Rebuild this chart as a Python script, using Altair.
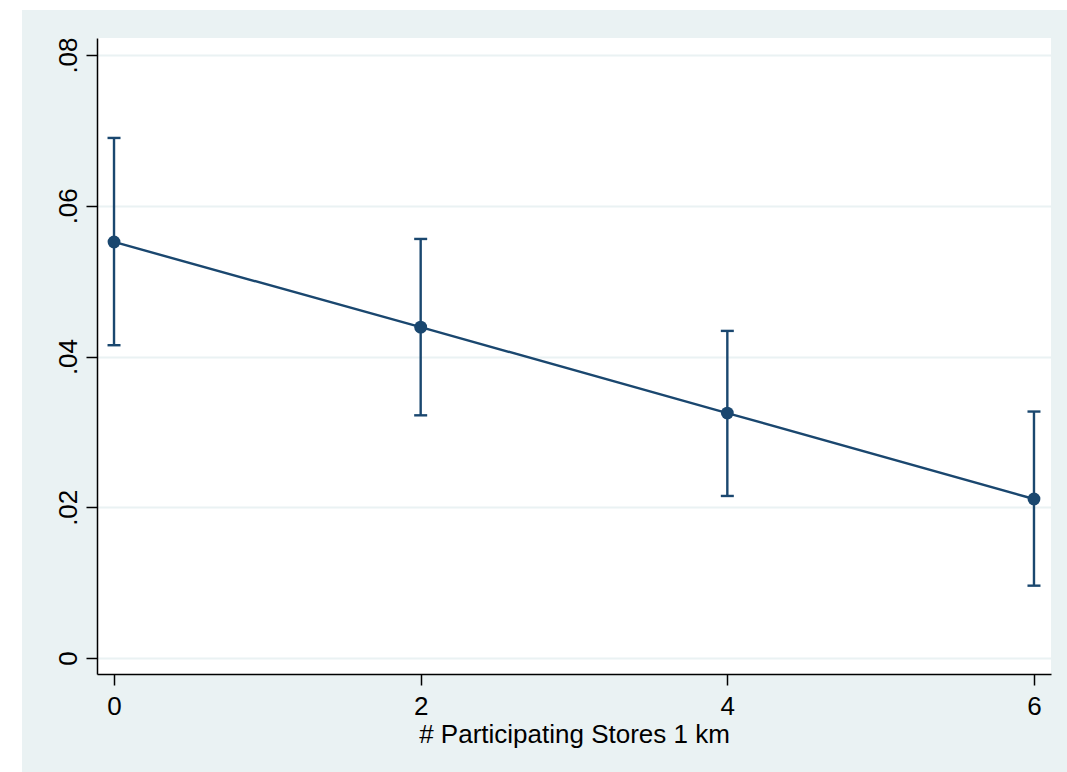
import altair as alt
import pandas as pd

# Margin-style estimates by number of participating stores within 1 km
stores = [0, 2, 4, 6]
estimate = [0.0552, 0.0439, 0.0325, 0.0211]
ci_low = [0.0415, 0.0322, 0.0215, 0.0096]
ci_high = [0.0690, 0.0556, 0.0434, 0.0327]

y_ticks = [0, 0.02, 0.04, 0.06, 0.08]
x_ticks = [0, 2, 4, 6]

navy = "#1A476F"
panel = "#EAF2F3"

df = pd.DataFrame({"stores": stores, "est": estimate, "lo": ci_low, "hi": ci_high})

x_scale = alt.Scale(domain=[-0.111, 6.111], nice=False, zero=False)
y_scale = alt.Scale(domain=[-0.00212, 0.08226], nice=False, zero=False)

x_axis = alt.Axis(
    values=x_ticks, title="# Participating Stores 1 km", grid=False, format="d",
    tickSize=11, tickColor="black", tickWidth=1.5,
    domainColor="black", domainWidth=1.5,
    labelFontSize=26, labelPadding=8, labelColor="black", labelFont="Liberation Sans",
    titleFontSize=26, titleFontWeight="normal", titleColor="black", titleFont="Liberation Sans",
    titleBaseline="alphabetic", titleY=68,
)
y_axis = alt.Axis(
    values=y_ticks, title=None, grid=True, gridColor=panel, gridWidth=2,
    tickSize=11, tickColor="black", tickWidth=1.5,
    domainColor="black", domainWidth=1.5,
    labelFontSize=26, labelPadding=10, labelColor="black", labelFont="Liberation Sans",
    labelAngle=270, labelAlign="center", labelBaseline="alphabetic",
    labelExpr="datum.value == 0 ? '0' : substring(format(datum.value, '.2f'), 1)",
)

base = alt.Chart(df)

line = base.mark_line(color=navy, strokeWidth=2.4).encode(
    x=alt.X("stores:Q", scale=x_scale, axis=x_axis),
    y=alt.Y("est:Q", scale=y_scale, axis=y_axis),
)
bars = base.mark_rule(color=navy, strokeWidth=2.4).encode(
    x=alt.X("stores:Q", scale=x_scale),
    y=alt.Y("lo:Q", scale=y_scale),
    y2="hi:Q",
)
cap_lo = base.mark_tick(color=navy, orient="horizontal", size=13, thickness=2.4, opacity=1).encode(
    x=alt.X("stores:Q", scale=x_scale),
    y=alt.Y("lo:Q", scale=y_scale),
)
cap_hi = base.mark_tick(color=navy, orient="horizontal", size=13, thickness=2.4, opacity=1).encode(
    x=alt.X("stores:Q", scale=x_scale),
    y=alt.Y("hi:Q", scale=y_scale),
)
points = base.mark_circle(color=navy, size=165, opacity=1).encode(
    x=alt.X("stores:Q", scale=x_scale),
    y=alt.Y("est:Q", scale=y_scale),
)

# white page margins around the shaded graph region
one = alt.Data(values=[{"k": 1}])
left_strip = alt.Chart(one).mark_rect(color="white").encode(
    x=alt.value(-97), x2=alt.value(-75), y=alt.value(-38), y2=alt.value(734)
)
top_strip = alt.Chart(one).mark_rect(color="white").encode(
    x=alt.value(-97), x2=alt.value(970), y=alt.value(-38), y2=alt.value(-28)
)

chart = (
    alt.layer(line, bars, cap_lo, cap_hi, points, left_strip, top_strip)
    .properties(
        width=954, height=636,
        autosize=alt.AutoSizeParams(type="none"),
        padding={"left": 97, "top": 38, "right": 16, "bottom": 98},
        background=panel,
    )
    .configure_view(fill="white", stroke=None)
)

chart.save("out.html", embed_options={"renderer": "svg", "actions": False})
